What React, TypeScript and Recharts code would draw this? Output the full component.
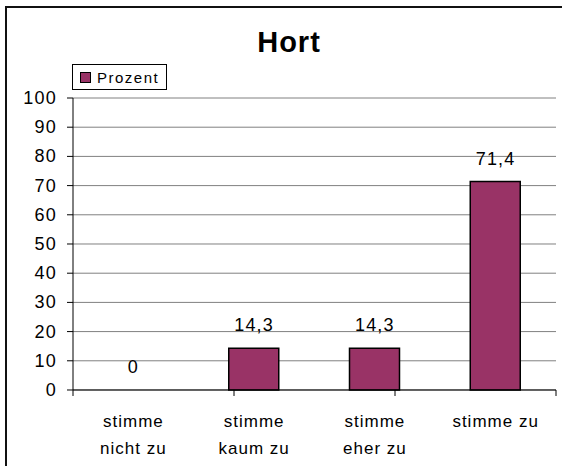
import React from 'react';
import { ComposedChart, Bar, Line, XAxis, YAxis, CartesianGrid, Legend, LabelList } from 'recharts';

const categories = ['stimme\nnicht zu', 'stimme\nkaum zu', 'stimme\neher zu', 'stimme zu'];
const prozent = [0, 14.3, 14.3, 71.4];
const yTicks = [0, 10, 20, 30, 40, 50, 60, 70, 80, 90, 100];
const seriesName = 'Prozent';
const title = 'Hort';

const data = categories.map((name, i) => ({ name, value: prozent[i] }));
const edgeTicks = categories.map((_, i) => i).concat(categories.length);

const FONT = '"Liberation Sans", Arial, sans-serif';
const BAR_COLOR = '#993366';

// formats 14.3 -> "14,3"
const fmt = (v: number) => String(v).replace('.', ',');

const CatTick = (props: any) => {
  const { x, y, payload } = props;
  const lines: string[] = String(payload.value).split('\n');
  return (
    <text x={x} y={y} textAnchor="middle" fontSize={17} letterSpacing={1} fill="#000" fontFamily={FONT}>
      {lines.map((l, i) => (
        <tspan key={i} x={x} dy={i === 0 ? 29 : 27}>
          {l}
        </tspan>
      ))}
    </text>
  );
};

// the boundary axis only needs its tick marks, no text
const NoTick = () => <g />;

const ValTick = (props: any) => {
  const { x, y, payload } = props;
  return (
    <text x={x} y={y} dy={6} textAnchor="end" fontSize={18} letterSpacing={1.2} fill="#000" fontFamily={FONT}>
      {payload.value}
    </text>
  );
};

// label above each point; sits on an invisible line so the 0 value gets one too
const ValueLabel = (props: any) => {
  const { x, y, value } = props;
  return (
    <text x={x} y={Number(y) - 17} textAnchor="middle" fontSize={18} letterSpacing={1.2} fill="#000" fontFamily={FONT}>
      {fmt(Number(value))}
    </text>
  );
};

const LegendBox = () => (
  <div
    style={{
      border: '1px solid #000',
      width: 95,
      height: 26,
      boxSizing: 'border-box',
      display: 'flex',
      alignItems: 'center',
      background: '#fff',
      fontFamily: FONT,
      fontSize: 15,
      letterSpacing: 1.5,
      color: '#000',
    }}
  >
    <span
      style={{
        width: 9,
        height: 9,
        background: BAR_COLOR,
        border: '1px solid #000',
        marginLeft: 7,
        marginRight: 6,
        display: 'inline-block',
      }}
    />
    {seriesName}
  </div>
);

export default function App() {
  return (
    <div style={{ position: 'absolute', left: 0, top: 0, width: 562, height: 466, background: '#fff', overflow: 'hidden' }}>
      <div
        style={{
          position: 'absolute',
          left: 5,
          top: 6,
          width: 620,
          height: 520,
          borderTop: '2px solid #111',
          borderLeft: '2px solid #111',
        }}
      />
      <div
        style={{
          position: 'absolute',
          left: 189,
          top: 28,
          width: 200,
          textAlign: 'center',
          fontFamily: FONT,
          fontWeight: 'bold',
          fontSize: 29,
          lineHeight: 1,
          letterSpacing: 1,
          color: '#000',
        }}
      >
        {title}
      </div>
      <ComposedChart
        width={562}
        height={466}
        data={data}
        margin={{ top: 98, right: 6, left: 18, bottom: 16 }}
        style={{ position: 'absolute', left: 0, top: 0 }}
      >
        <CartesianGrid vertical={false} stroke="#808080" xAxisId="b" yAxisId="left" />
        <XAxis
          xAxisId="a"
          type="number"
          domain={[0, categories.length]}
          ticks={edgeTicks}
          interval={0}
          tick={<NoTick />}
          height={0.01}
          axisLine={{ stroke: '#000' }}
          tickLine={{ stroke: '#000' }}
          tickSize={6}
        />
        <XAxis
          xAxisId="b"
          dataKey="name"
          height={60}
          interval={0}
          tickLine={false}
          axisLine={false}
          tick={<CatTick />}
        />
        <YAxis
          yAxisId="left"
          width={55}
          domain={[0, 100]}
          ticks={yTicks}
          interval={0}
          tickSize={6}
          tickMargin={10}
          axisLine={{ stroke: '#000' }}
          tickLine={{ stroke: '#000' }}
          tick={<ValTick />}
        />
        <YAxis
          yAxisId="right"
          orientation="right"
          width={0}
          domain={[0, 100]}
          tick={false}
          tickLine={false}
          axisLine={{ stroke: '#808080' }}
        />
        <Legend
          layout="horizontal"
          verticalAlign="middle"
          align="center"
          content={<LegendBox />}
          wrapperStyle={{ position: 'absolute', top: 64, left: 72, width: 'auto' }}
        />
        <Bar
          dataKey="value"
          name={seriesName}
          xAxisId="b"
          yAxisId="left"
          fill={BAR_COLOR}
          stroke="#000"
          strokeWidth={1.5}
          barSize={50}
          isAnimationActive={false}
        />
        <Line
          dataKey="value"
          xAxisId="b"
          yAxisId="left"
          stroke="none"
          dot={false}
          activeDot={false}
          legendType="none"
          isAnimationActive={false}
        >
          <LabelList dataKey="value" content={<ValueLabel />} />
        </Line>
      </ComposedChart>
    </div>
  );
}
